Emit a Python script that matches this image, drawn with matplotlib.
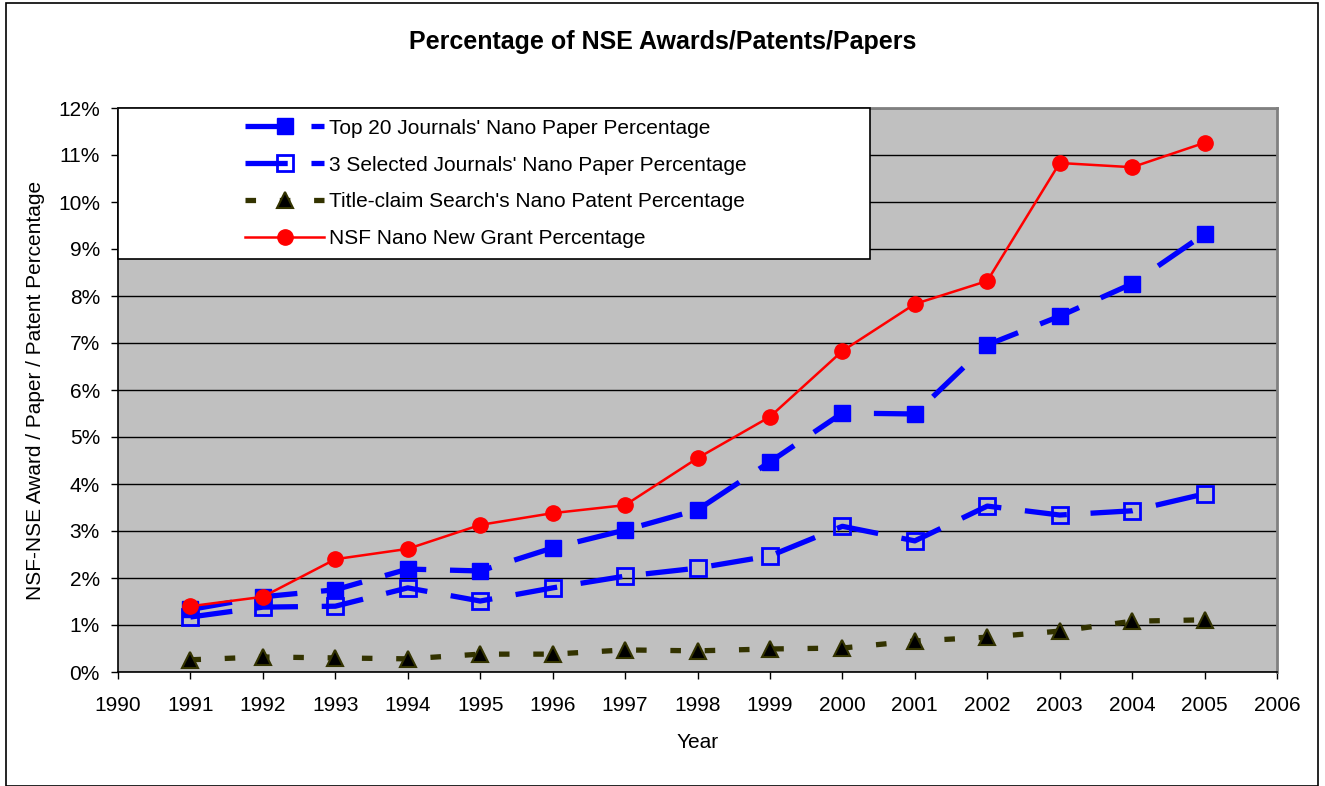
import matplotlib
matplotlib.use("Agg")
import matplotlib.pyplot as plt
from matplotlib.ticker import FuncFormatter, MultipleLocator
from matplotlib.patches import Rectangle

plt.rcParams['font.family'] = ['Liberation Sans', 'DejaVu Sans']

years = list(range(1991, 2006))
top20 = [1.33, 1.60, 1.75, 2.19, 2.15, 2.64, 3.02, 3.45, 4.47, 5.51, 5.49, 6.96, 7.57, 8.26, 9.32]
sel3 = [1.17, 1.38, 1.40, 1.79, 1.51, 1.79, 2.04, 2.21, 2.47, 3.10, 2.79, 3.53, 3.34, 3.43, 3.79]
patent = [0.26, 0.32, 0.30, 0.28, 0.38, 0.38, 0.47, 0.45, 0.49, 0.51, 0.66, 0.74, 0.87, 1.08, 1.11]
nsf = [1.40, 1.60, 2.40, 2.62, 3.13, 3.38, 3.55, 4.55, 5.43, 6.83, 7.83, 8.32, 10.83, 10.74, 11.26]

labels = ["Top 20 Journals' Nano Paper Percentage",
          "3 Selected Journals' Nano Paper Percentage",
          "Title-claim Search's Nano Patent Percentage",
          "NSF Nano New Grant Percentage"]

FS = 15

fig = plt.figure(figsize=(13.25, 7.86), dpi=100)
fig.patches.append(Rectangle((6/1325, 0), 1312/1325, 1 - 3/786, transform=fig.transFigure,
                             fill=False, edgecolor='black', linewidth=1.2, zorder=0))
ax = fig.add_axes([118/1325, 1 - 672/786, (1277 - 118)/1325, (672 - 108)/786])
ax.set_facecolor('#C0C0C0')

ax.plot(years, top20, color='#0000FF', lw=3.8, linestyle=(0, (8, 4.5)), marker='s', ms=11,
        mfc='#0000FF', mec='#0000FF', label=labels[0], zorder=3)
ax.plot(years, sel3, color='#0000FF', lw=3.8, linestyle=(0, (8, 4.5)), marker='s', ms=11,
        mfc='none', mec='#0000FF', mew=2, label=labels[1], zorder=3)
ax.plot(years, patent, color='#333300', lw=3.8, linestyle=(0, (2, 4.5)), marker='^', ms=11,
        mfc='black', mec='#333300', mew=1.5, label=labels[2], zorder=3)
ax.plot(years, nsf, color='#FF0000', lw=1.8, marker='o', ms=11,
        mfc='#FF0000', mec='#FF0000', label=labels[3], zorder=4)

ax.set_xlim(1990, 2006)
ax.set_ylim(0, 12)
ax.xaxis.set_major_locator(MultipleLocator(1))
ax.yaxis.set_major_locator(MultipleLocator(1))
ax.yaxis.set_major_formatter(FuncFormatter(lambda v, p: f"{int(round(v))}%"))
ax.grid(axis='y', color='black', lw=1)
ax.set_axisbelow(True)
ax.tick_params(axis='both', direction='out', length=5, width=1, labelsize=FS, colors='black')
ax.tick_params(axis='x', pad=12)
ax.tick_params(axis='y', pad=8)
for s in ['top', 'right']:
    ax.spines[s].set_color('#808080')
    ax.spines[s].set_linewidth(2)
for s in ['left', 'bottom']:
    ax.spines[s].set_color('black')
    ax.spines[s].set_linewidth(1.2)

ax.set_xlabel('Year', fontsize=FS, labelpad=13)
ax.set_ylabel('NSF-NSE Award / Paper / Patent Percentage', fontsize=FS, labelpad=9)
fig.text(0.5, 1 - 42/786, 'Percentage of NSE Awards/Patents/Papers', ha='center', va='center',
         fontsize=18, fontweight='bold')

# legend box
ax.add_patch(Rectangle((0, (672 - 259)/564), (870 - 118)/1159, 1 - (672 - 259)/564,
                       transform=ax.transAxes, facecolor='white', edgecolor='black',
                       lw=1.2, zorder=5, clip_on=False))
leg = ax.legend(loc='center', bbox_to_anchor=((496 - 118)/1159, (672 - 183.5)/564),
                fontsize=FS, frameon=False, handlelength=3.8, labelspacing=0.86,
                handletextpad=0.25, borderaxespad=0)
leg.set_zorder(6)
leg._legend_box.align = 'left'
fig.savefig('out.png', dpi=100)
